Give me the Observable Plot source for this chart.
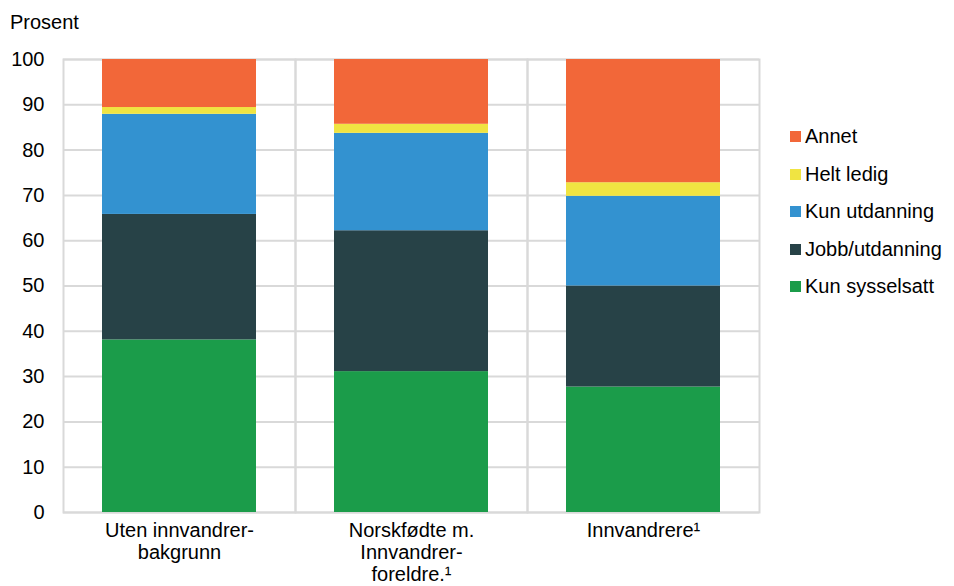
<!DOCTYPE html>
<html><head><meta charset="utf-8">
<script src="https://cdn.jsdelivr.net/npm/d3@7"></script>
<script src="https://cdn.jsdelivr.net/npm/@observablehq/plot@0.6"></script>
<style>
body{margin:0;background:#fff;font-family:"Liberation Sans",Arial,sans-serif;color:#000;}
#wrap{position:relative;width:954px;height:586px;}
#title{position:absolute;left:10px;top:10px;font-size:20px;line-height:24px;}
#legend{position:absolute;left:790px;top:118px;}
.item{display:flex;align-items:center;height:37.5px;font-size:20px;}
.sw{width:11px;height:11px;margin-right:4px;flex:none;}
</style></head><body>
<div id="wrap"><div id="chart"></div><div id="title">Prosent</div><div id="legend"></div></div>
<script>
const categories = ["Uten innvandrer-\nbakgrunn", "Norskfødte m.\nInnvandrer-\nforeldre.¹", "Innvandrere¹"];
const series = ["Kun sysselsatt", "Jobb/utdanning", "Kun utdanning", "Helt ledig", "Annet"];
const colors = ["#1b9c4a", "#274247", "#3392d0", "#f0e442", "#f26739"];
const kunSysselsatt = [38.1, 31.1, 27.7];
const jobbUtdanning = [27.7, 31.1, 22.3];
const kunUtdanning = [22.1, 21.5, 19.8];
const heltLedig = [1.5, 2.0, 3.0];
const annet = [10.6, 14.3, 27.2];
const yTicks = [0, 10, 20, 30, 40, 50, 60, 70, 80, 90, 100];

const seriesValues = [kunSysselsatt, jobbUtdanning, kunUtdanning, heltLedig, annet];
const rows = [];
categories.forEach((c, i) => {
  series.forEach((s, j) => rows.push({cat: c, series: s, value: seriesValues[j][i]}));
});

const grid = "#d9d9d9";
const chart = Plot.plot({
  width: 954, height: 586,
  marginLeft: 62, marginRight: 194, marginTop: 59, marginBottom: 74,
  style: {fontFamily: '"Liberation Sans", Arial, sans-serif', fontSize: "20px", color: "#000", background: "#fff"},
  fx: {domain: categories, padding: 0},
  x: {padding: 0.2, axis: null},
  y: {domain: [0, 100], ticks: yTicks},
  color: {domain: series, range: colors},
  marks: [
    Plot.ruleY(yTicks, {stroke: grid, strokeWidth: 2}),
    Plot.frame({stroke: grid, strokeWidth: 2}),
    Plot.barY(rows, {fx: "cat", x: () => "b", y: "value", fill: "series"}),
    Plot.axisY(yTicks, {tickSize: 0, tickPadding: 19, label: null, fontSize: 20}),
    Plot.axisFx({anchor: "bottom", tickSize: 0, tickPadding: 9, label: null, fontSize: 20, lineHeight: 1.1})
  ]
});
document.getElementById("chart").appendChild(chart);

const legend = document.getElementById("legend");
series.slice().reverse().forEach((s) => {
  const j = series.indexOf(s);
  const it = document.createElement("div");
  it.className = "item";
  const sw = document.createElement("span");
  sw.className = "sw";
  sw.style.background = colors[j];
  const t = document.createElement("span");
  t.textContent = s;
  it.appendChild(sw); it.appendChild(t);
  legend.appendChild(it);
});
</script>
</body></html>
